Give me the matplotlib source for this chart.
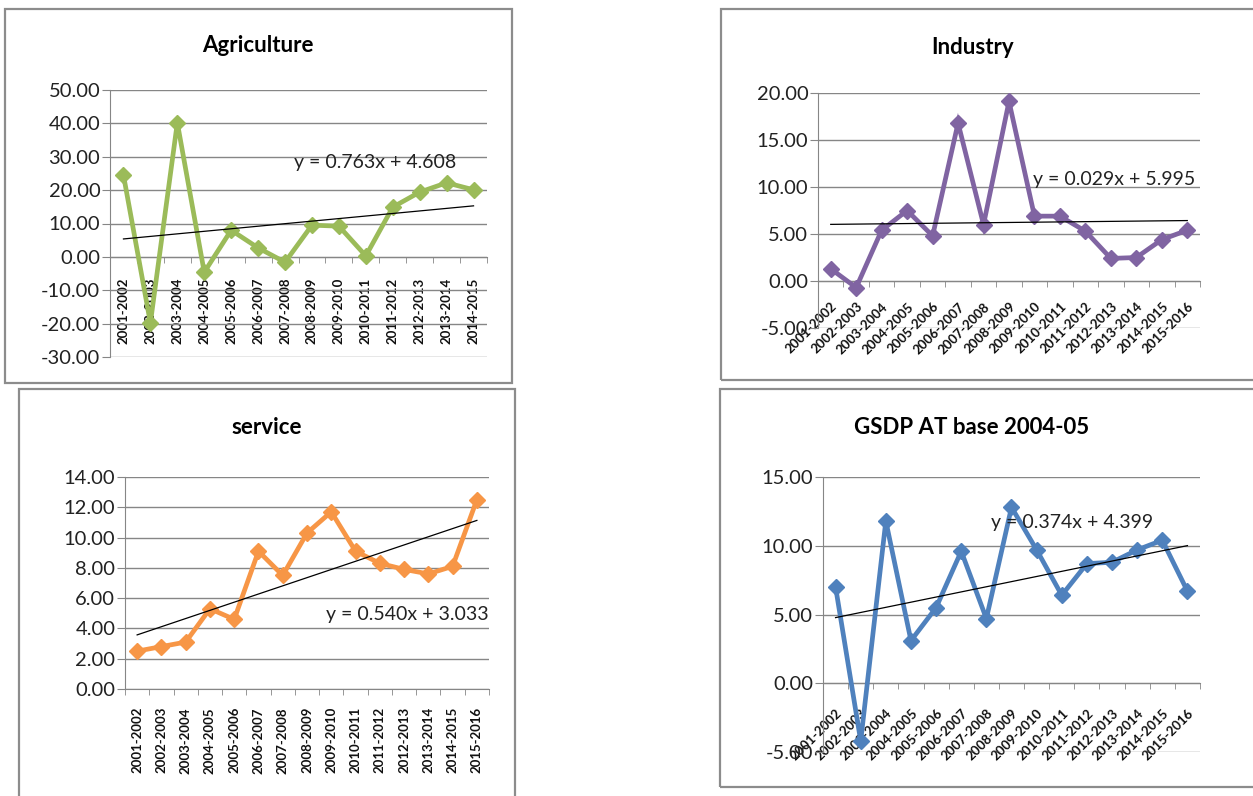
import numpy as np
import matplotlib
matplotlib.use("Agg")
import matplotlib.pyplot as plt
from matplotlib.patches import Rectangle
from matplotlib.ticker import FixedLocator, FormatStrFormatter

plt.rcParams['font.family'] = ['Lato', 'DejaVu Sans']
plt.rcParams['axes.unicode_minus'] = False

# Data
years_14 = ["2001-2002", "2002-2003", "2003-2004", "2004-2005", "2005-2006",
            "2006-2007", "2007-2008", "2008-2009", "2009-2010", "2010-2011",
            "2011-2012", "2012-2013", "2013-2014", "2014-2015"]
years_15 = years_14 + ["2015-2016"]

agriculture = [24.5, -19.8, 40.2, -4.6, 8.0, 2.7, -1.6, 9.5, 9.2, 0.3,
               14.9, 19.4, 22.2, 20.1]
industry = [1.3, -0.7, 5.4, 7.5, 4.8, 16.8, 6.0, 19.1, 6.9, 6.9,
            5.3, 2.4, 2.5, 4.4, 5.4]
service = [2.5, 2.8, 3.1, 5.3, 4.6, 9.1, 7.5, 10.3, 11.7, 9.1,
           8.3, 7.9, 7.6, 8.1, 12.5]
gsdp = [7.0, -4.2, 11.8, 3.1, 5.5, 9.6, 4.7, 12.8, 9.7, 6.4,
        8.7, 8.8, 9.7, 10.4, 6.7]

# trend line coefficients (slope, intercept) as printed on the charts
agri_trend = (0.763, 4.608)
ind_trend = (0.029, 5.995)
serv_trend = (0.540, 3.033)
gsdp_trend = (0.374, 4.399)

W, H = 1253, 796
fig = plt.figure(figsize=(W / 100, H / 100), dpi=100)
fig.patch.set_facecolor('white')

GRAY = '#868686'


def px_rect(x0, y0, x1, y1):
    return [x0 / W, 1 - y1 / H, (x1 - x0) / W, (y1 - y0) / H]


def frame(x0, y0, x1, y1):
    fig.patches.append(Rectangle((x0 / W, 1 - y1 / H), (x1 - x0) / W, (y1 - y0) / H,
                                 transform=fig.transFigure, fill=False,
                                 edgecolor='#8c8c8c', linewidth=1.6))


def panel(rect, title, title_xy, cats, vals, trend, color, ylim, ystep,
          eq_xy, rot, lab_pad, lab_size):
    ax = fig.add_axes(px_rect(*rect))
    x = np.arange(1, len(cats) + 1)
    ax.set_xlim(0.5, len(cats) + 0.5)
    ax.set_ylim(*ylim)
    ax.yaxis.set_major_locator(FixedLocator(np.arange(ylim[0], ylim[1] + 0.01, ystep)))
    ax.yaxis.set_major_formatter(FormatStrFormatter('%.2f'))
    ax.grid(axis='y', color=GRAY, linewidth=1.0)
    ax.set_axisbelow(True)
    for s in ['top', 'right']:
        ax.spines[s].set_visible(False)
    ax.spines['left'].set_color(GRAY)
    ax.spines['bottom'].set_color(GRAY)
    ax.spines['bottom'].set_position(('data', 0))
    ax.tick_params(axis='y', direction='out', length=6, color=GRAY,
                   labelsize=14.5, labelcolor='#222222', pad=1)

    ax.set_xticks(x)
    ax.set_xticks(np.arange(0.5, len(cats) + 1), minor=True)
    if rot == 90:
        ax.set_xticklabels(cats, rotation=90, ha='center', va='top',
                           fontsize=lab_size, fontweight='bold', color='#111111')
    else:
        ax.set_xticklabels(cats, rotation=rot, ha='right', va='top',
                           rotation_mode='anchor', fontsize=lab_size,
                           fontweight='bold', color='#111111')
    ax.tick_params(axis='x', which='major', length=0, pad=lab_pad)
    ax.tick_params(axis='x', which='minor', length=4, color=GRAY, direction='out')

    ax.plot(x, vals, color=color, linewidth=3.4, marker='D', markersize=8.5,
            solid_joinstyle='miter', zorder=3)
    m, b = trend
    ax.plot([x[0], x[-1]], [m * x[0] + b, m * x[-1] + b], color='black',
            linewidth=0.9, zorder=4)
    ax.text(eq_xy[0], eq_xy[1], 'y = %.3fx + %.3f' % (m, b), fontsize=14,
            ha='left', va='center', color='#222222', zorder=5)

    fig.text(title_xy[0] / W, 1 - title_xy[1] / H, title, fontsize=16,
             fontweight='bold', ha='center', va='center', color='black')
    return ax


# frames around each chart
frame(5, 9, 512, 383)
frame(721, 9, 1262, 380)
frame(19, 389, 515, 805)
frame(720, 389, 1262, 787)

panel((110, 90, 487, 357), 'Agriculture', (258, 45), years_14, agriculture,
      agri_trend, '#9BBB59', (-30, 50), 10, (7.35, 28.2), 90, 15, 9.5)
panel((818, 93, 1200, 328), 'Industry', (973, 47), years_15, industry,
      ind_trend, '#8064A2', (-5, 20), 5, (8.95, 10.8), 45, 14, 9.5)
panel((125, 477, 489, 689), 'service', (267, 428), years_15, service,
      serv_trend, '#F79646', (0, 14), 2, (8.8, 4.95), 90, 13, 9.5)
panel((823, 477, 1200, 752), 'GSDP AT base 2004-05', (972, 428), years_15, gsdp,
      gsdp_trend, '#4F81BD', (-5, 15), 5, (7.2, 11.7), 45, 17, 9.5)

fig.savefig('out.png', dpi=100, facecolor='white')
